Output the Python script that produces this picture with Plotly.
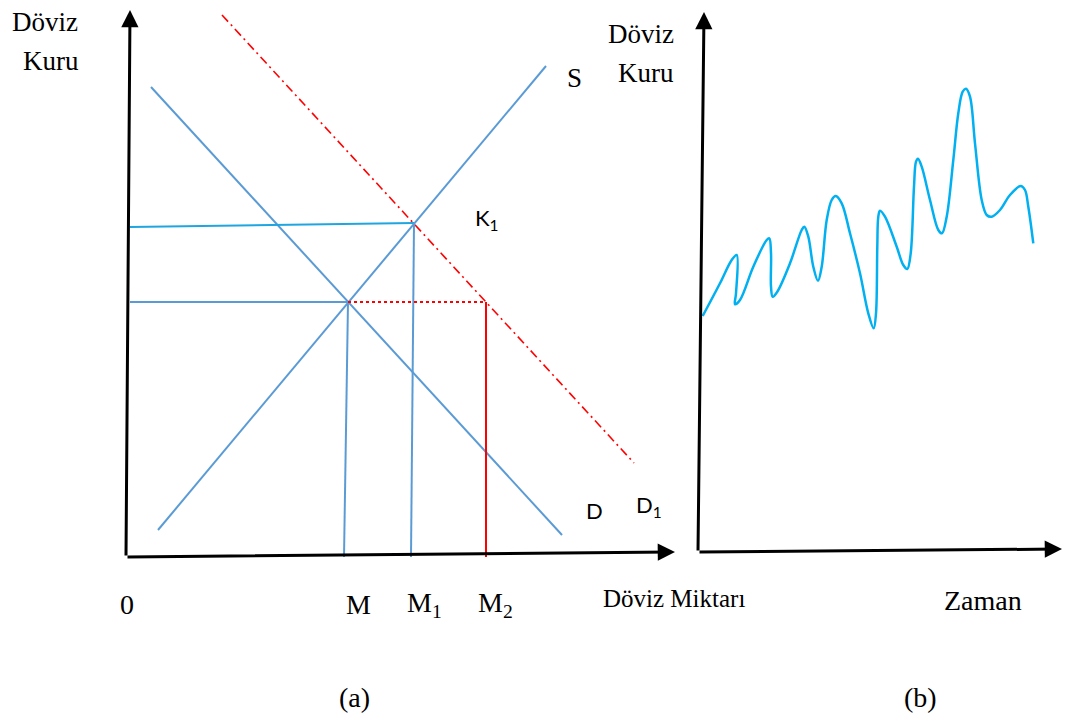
import plotly.graph_objects as go

W, H = 1067, 713

# ---- Panel (a): foreign-exchange market (quantity q, exchange rate p) ----
axis_a_q = [0, 4, 549]      # x axis: origin -> arrow tip (q)
axis_a_p = [0, 547, 5]      # matching p values (y axis tip, x axis tip)

supply_q, supply_p = [32, 420], [27, 491]          # S
demand_q, demand_p = [25, 436], [470, 22]          # D
demand1_q, demand1_p = [96, 508], [542, 94]        # D1 (shifted demand)

eq_q, eq_p = 222, 255        # E  : S ∩ D
k1_q, k1_p = 288, 334        # K1 : S ∩ D1
m2_q = 360                   # D1 at the old exchange rate
m_base, m1_base = 218, 285   # feet of the drop lines on the q axis
p_start = 4                  # left end of the horizontal guide lines
k1_p_left = 330

tick_labels = ["0", "M", "M<sub>1</sub>", "M<sub>2</sub>"]

# ---- Panel (b): exchange rate over time ----
time_t = [4.7, 22, 33.7, 38.7, 38, 37, 42, 55.3, 68.7, 71.3, 73, 73, 74.7, 79.3,
          92, 103.7, 106.3, 110.3, 115.3, 120, 123.7, 128.7, 133.7, 137.7, 143.7,
          152, 162, 170.3, 175.7, 178, 179.3, 180.3, 182, 187, 198.7, 205.3,
          209.3, 212.7, 216, 218, 220, 223.7, 232, 240.3, 244, 248.7, 255.3,
          260.3, 264.7, 268, 272, 277, 283.7, 288.7, 293.7, 302, 312, 322.7,
          327, 330.3, 335.3]
rate_r = [236, 268.7, 292, 297, 258.7, 247.7, 252, 285.3, 312, 313.7, 298.7,
          265.3, 255.3, 260.3, 288.7, 322, 325.3, 315.3, 285.3, 271.3, 285.3,
          332, 352, 356, 348.7, 318.7, 278.7, 238.7, 223.7, 238.7, 305.3, 335.3,
          341.3, 335.3, 305.3, 287, 283, 298.7, 365.3, 390.3, 393.3, 385.3, 352,
          322, 318.7, 335.3, 392, 438.7, 460.3, 463.3, 455.3, 408.7, 352, 337,
          335.3, 342, 357, 366, 362, 345.3, 308.7]
axis_b_t = [0, 6, 364]
axis_b_r = [0, 540, 3]

BLUE = "#5B9BD5"
CYAN = "#1FA5E0"
CURVE = "#00B0F0"
RED = "#FF0000"
SERIF = "Liberation Serif"
SANS = "Lato"

fig = go.Figure()


def seg_a(q, p, color, width=2, dash="solid"):
    fig.add_trace(go.Scatter(x=q, y=p, mode="lines", xaxis="x", yaxis="y",
                             line=dict(color=color, width=width, dash=dash),
                             hoverinfo="skip", showlegend=False))


# supply and demand schedules
seg_a(supply_q, supply_p, BLUE)
seg_a(demand_q, demand_p, BLUE)
seg_a(demand1_q, demand1_p, RED, 1.6, "9px,4px,2px,4px")

# guide lines
seg_a([p_start, eq_q], [eq_p, eq_p], BLUE)
seg_a([eq_q, m_base], [eq_p, 0], BLUE)
seg_a([p_start, k1_q], [k1_p_left, k1_p], CYAN)
seg_a([k1_q, m1_base], [k1_p, 0], BLUE)
seg_a([eq_q, m2_q], [eq_p, eq_p], RED, 2.2, "dot")
seg_a([m2_q, m2_q], [eq_p, 0], RED, 2)

# exchange-rate path
fig.add_trace(go.Scatter(x=time_t, y=rate_r, mode="lines", xaxis="x2", yaxis="y2",
                         line=dict(color=CURVE, width=2.5, shape="spline",
                                   smoothing=1.0),
                         hoverinfo="skip", showlegend=False))

annotations = []


def arrow(xref, yref, tail, tip):
    annotations.append(dict(x=tip[0], y=tip[1], ax=tail[0], ay=tail[1],
                            xref=xref, yref=yref, axref=xref, ayref=yref,
                            showarrow=True, arrowhead=2, arrowsize=1.15,
                            arrowwidth=3, arrowcolor="black", text=""))


# axes with arrowheads
arrow("x", "y", (axis_a_q[0], axis_a_p[0]), (axis_a_q[1], axis_a_p[1]))
arrow("x", "y", (axis_a_q[0], axis_a_p[0]), (axis_a_q[2], axis_a_p[2]))
arrow("x2", "y2", (axis_b_t[0], axis_b_r[0]), (axis_b_t[1], axis_b_r[1]))
arrow("x2", "y2", (axis_b_t[0], axis_b_r[0]), (axis_b_t[2], axis_b_r[2]))


def label(text, px, py, size=27, family=SERIF, xanchor="center"):
    annotations.append(dict(text=text, x=px / W, y=1 - py / H, xref="paper",
                            yref="paper", showarrow=False, xanchor=xanchor,
                            yanchor="middle",
                            font=dict(family=family, size=size, color="black")))


label("Döviz", 45, 22)
label("Kuru", 51, 61)
label("Döviz", 641, 34)
label("Kuru", 646, 73)
label("S", 574, 78)
label("K<sub>1</sub>", 487, 219, 22, SANS)
label("D", 594, 510, 22, SANS)
label("D<sub>1</sub>", 649, 506, 22, SANS)
for txt, px in zip(tick_labels, [127, 358, 424, 495]):
    label(txt, px, 604, 28)
label("Döviz Miktarı", 674, 598, 25)
label("Zaman", 983, 600, 28)
label("(a)", 354, 697, 28)
label("(b)", 920, 697, 28)

hidden = dict(visible=False, fixedrange=True)
fig.update_layout(
    width=W, height=H,
    margin=dict(l=0, r=0, t=0, b=0),
    paper_bgcolor="white", plot_bgcolor="white",
    xaxis=dict(range=[-126, W - 126], domain=[0, 1], **hidden),
    yaxis=dict(range=[557 - H, 557], domain=[0, 1], **hidden),
    xaxis2=dict(range=[-698, W - 698], domain=[0, 1], overlaying="x", **hidden),
    yaxis2=dict(range=[552 - H, 552], domain=[0, 1], overlaying="y", **hidden),
    annotations=annotations,
)

fig.write_html("out.html", config={"displayModeBar": False})
